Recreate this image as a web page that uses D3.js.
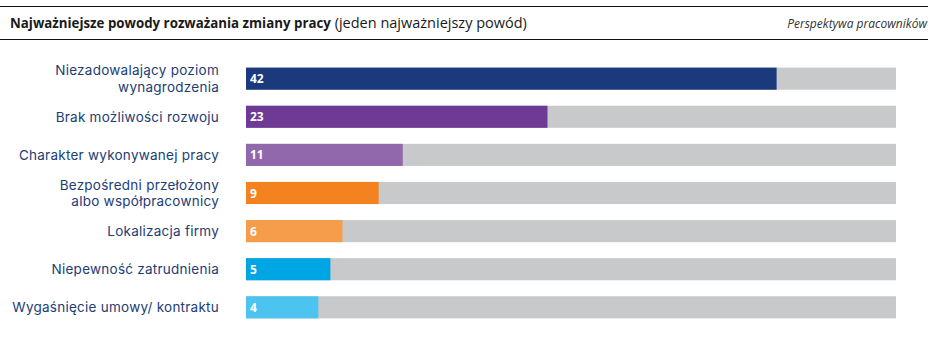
<!DOCTYPE html>
<html><head><meta charset="utf-8">
<script src="https://cdn.jsdelivr.net/npm/d3@7"></script>
<style>
body{margin:0;background:#fff;}
svg{display:block;}
</style></head>
<body>
<svg id="c" width="946" height="340"></svg>
<script>
const categories = [
  ["Niezadowalający poziom", "wynagrodzenia"],
  ["Brak możliwości rozwoju"],
  ["Charakter wykonywanej pracy"],
  ["Bezpośredni przełożony", "albo współpracownicy"],
  ["Lokalizacja firmy"],
  ["Niepewność zatrudnienia"],
  ["Wygaśnięcie umowy/ kontraktu"]
];
const values = [42, 23, 11, 9, 6, 5, 4];
const colors = ["#1b3a7d", "#6f3996", "#9268ad", "#f4831f", "#f69d4c", "#00a5e3", "#4dc4ef"];
const titleBold = "Najważniejsze powody rozważania zmiany pracy";
const titleRegular = " (jeden najważniejszy powód)";
const subtitle = "Perspektywa pracowników";

const svg = d3.select("#c");
const font = "'Open Sans', 'DejaVu Sans', sans-serif";
const labelFont = "Inter, 'Open Sans', sans-serif";

// header lines
svg.append("line").attr("x1", 0).attr("x2", 928).attr("y1", 6.5).attr("y2", 6.5)
  .attr("stroke", "#111").attr("stroke-width", 1.2);
svg.append("line").attr("x1", 0).attr("x2", 928).attr("y1", 39.5).attr("y2", 39.5)
  .attr("stroke", "#111").attr("stroke-width", 1.2);

const t = svg.append("text").attr("x", 10).attr("y", 27.5)
  .attr("font-family", font).attr("fill", "#1a1a1a");
t.append("tspan").attr("font-weight", "bold").attr("font-size", 13.3).text(titleBold);
t.append("tspan").attr("font-size", 14.5).text(titleRegular);

svg.append("text").attr("x", 927).attr("y", 27.5).attr("text-anchor", "end")
  .attr("font-family", font).attr("font-size", 12).attr("font-style", "italic")
  .attr("fill", "#333").text(subtitle);

const idx = d3.range(values.length);
const y = d3.scaleBand().domain(idx).range([60, 326]).paddingInner(0.42).paddingOuter(0.2);
const x = d3.scaleLinear().domain([-2, 51.9]).range([246, 896]);

const g = svg.append("g");
// background tracks
g.selectAll("rect.track").data(idx).join("rect").attr("class", "track")
  .attr("x", x.range()[0]).attr("y", d => y(d))
  .attr("width", x.range()[1] - x.range()[0]).attr("height", y.bandwidth())
  .attr("fill", "#c8c9cb");
// bars
g.selectAll("rect.bar").data(idx).join("rect").attr("class", "bar")
  .attr("x", x.range()[0]).attr("y", d => y(d))
  .attr("width", d => x(values[d]) - x.range()[0]).attr("height", y.bandwidth())
  .attr("fill", d => colors[d]);
// value labels
g.selectAll("text.val").data(idx).join("text").attr("class", "val")
  .attr("x", x.range()[0] + 4).attr("y", d => y(d) + y.bandwidth() / 2 + 4.5)
  .attr("font-family", font).attr("font-size", 12).attr("font-weight", "bold")
  .attr("fill", "#fff").text(d => values[d]);
// category labels
const lab = g.selectAll("text.cat").data(idx).join("text").attr("class", "cat")
  .attr("text-anchor", "end").attr("font-family", labelFont).attr("font-size", 13.5)
  .attr("letter-spacing", 0.25).attr("fill", "#213d76");
lab.each(function(d) {
  const lines = categories[d];
  const cy = y(d) + y.bandwidth() / 2;
  const lh = 16.5;
  const top = cy - (lines.length - 1) * lh / 2 + 5;
  d3.select(this).selectAll("tspan").data(lines).join("tspan")
    .attr("x", 219).attr("y", (l, i) => top + i * lh).text(l => l);
});
</script>
</body></html>
